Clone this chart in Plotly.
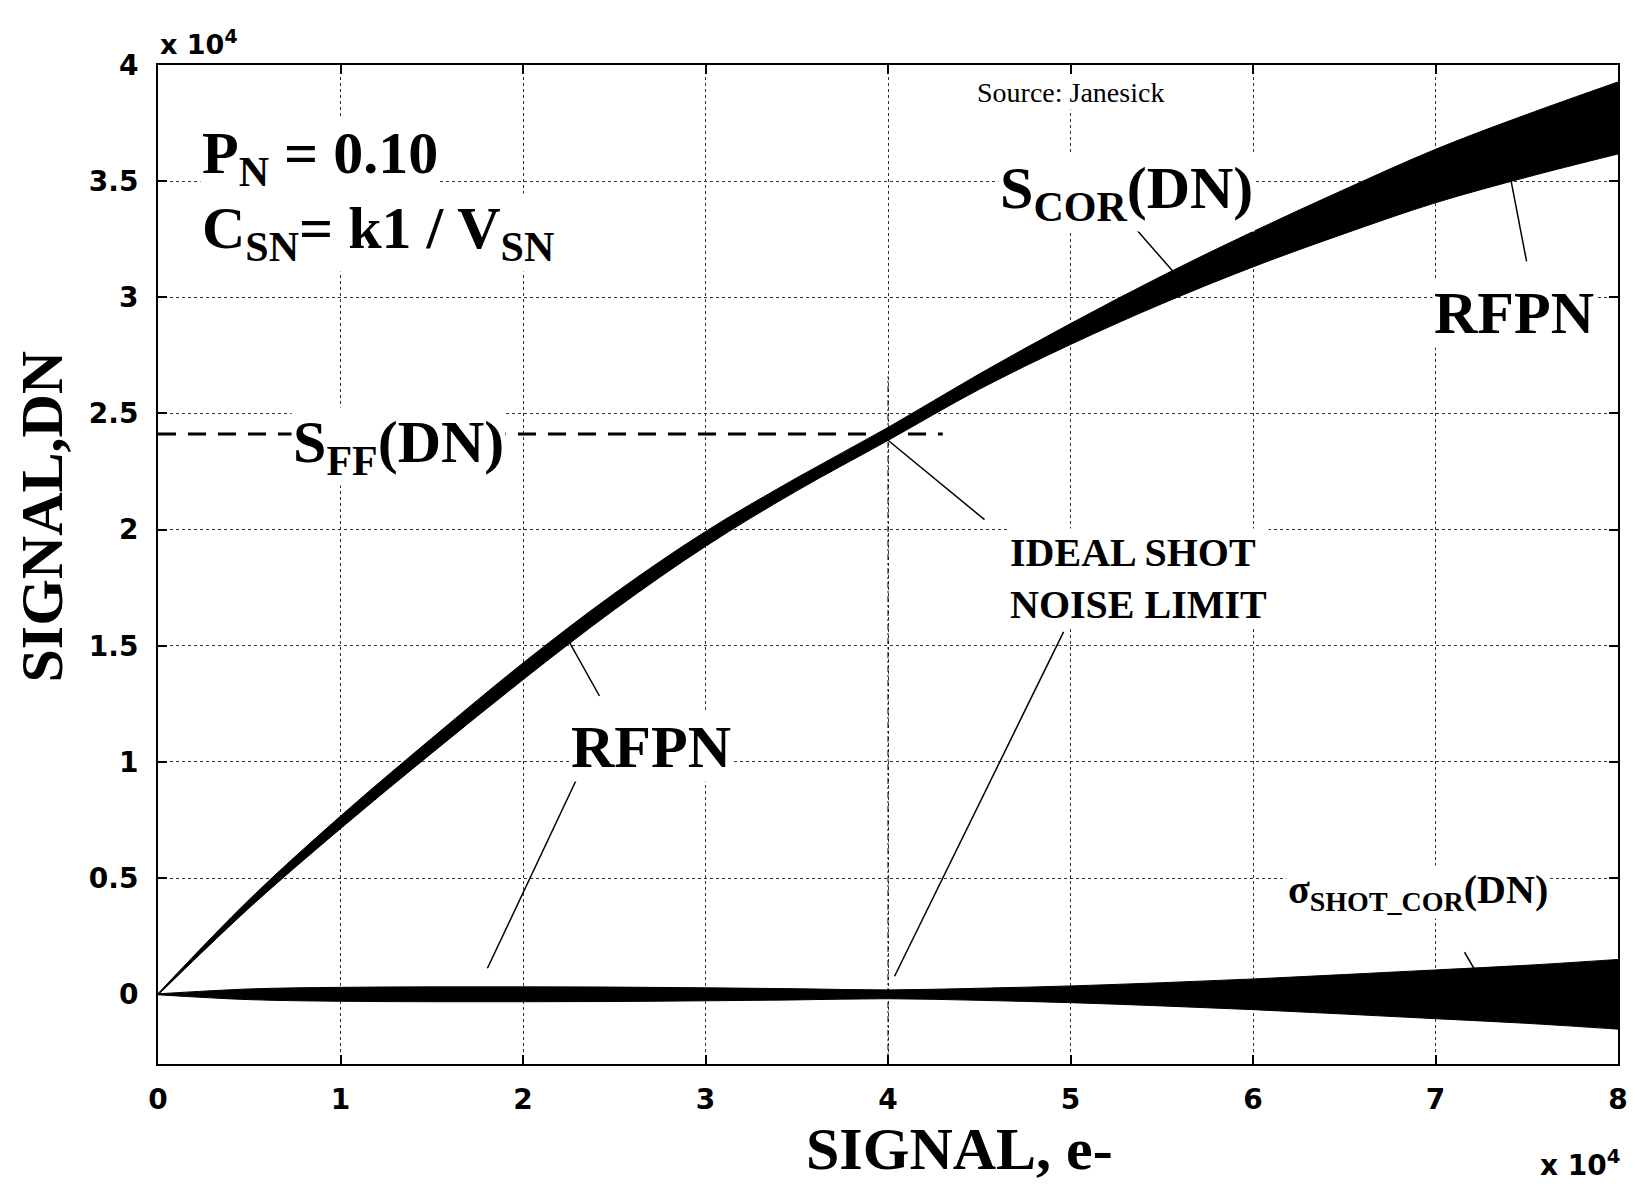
import plotly.graph_objects as go

# ---------------- data ----------------
signal_e = [0, 5000, 10000, 15000, 20000, 25000, 30000, 35000, 40000,
            45000, 50000, 55000, 60000, 65000, 70000, 75000, 80000]

# S_COR(DN) centre of the noisy trace
s_cor_dn = [0, 3900, 7400, 10700, 13900, 16900, 19600, 21950, 24120,
            26370, 28420, 30320, 32070, 33690, 35220, 36520, 37720]
# half thickness of the noisy S_COR trace (RFPN)
s_cor_spread = [30, 180, 270, 320, 360, 350, 320, 280, 280,
                330, 450, 600, 760, 950, 1150, 1350, 1550]
# half thickness of the sigma_SHOT_COR(DN) trace around zero
sigma_shot_spread = [20, 230, 300, 320, 320, 310, 280, 240, 190,
                     260, 360, 500, 660, 850, 1050, 1250, 1500]

s_ff_dn = 24120
s_ff_x_end = 43000
ideal_limit_e = 40000

x_ticks = [0, 10000, 20000, 30000, 40000, 50000, 60000, 70000, 80000]
x_tick_text = ["0", "1", "2", "3", "4", "5", "6", "7", "8"]
y_ticks = [0, 5000, 10000, 15000, 20000, 25000, 30000, 35000, 40000]
y_tick_text = ["0", "0.5", "1", "1.5", "2", "2.5", "3", "3.5", "4"]

# ---------------- figure ----------------
fig = go.Figure()

upper = [c + s for c, s in zip(s_cor_dn, s_cor_spread)]
lower = [c - s for c, s in zip(s_cor_dn, s_cor_spread)]
fig.add_trace(go.Scatter(x=signal_e, y=upper, mode="lines",
                         line=dict(color="black", width=1, shape="spline"),
                         showlegend=False))
fig.add_trace(go.Scatter(x=signal_e, y=lower, mode="lines", fill="tonexty",
                         fillcolor="black",
                         line=dict(color="black", width=1, shape="spline"),
                         showlegend=False))

n_up = [s for s in sigma_shot_spread]
n_lo = [-s for s in sigma_shot_spread]
fig.add_trace(go.Scatter(x=signal_e, y=n_up, mode="lines",
                         line=dict(color="black", width=1, shape="spline"),
                         showlegend=False))
fig.add_trace(go.Scatter(x=signal_e, y=n_lo, mode="lines", fill="tonexty",
                         fillcolor="black",
                         line=dict(color="black", width=1, shape="spline"),
                         showlegend=False))

# S_FF dashed line
fig.add_trace(go.Scatter(x=[0, s_ff_x_end], y=[s_ff_dn, s_ff_dn], mode="lines",
                         line=dict(color="black", width=3, dash="18px,12px"),
                         showlegend=False))
# ideal shot noise limit vertical dash-dot line
fig.add_trace(go.Scatter(x=[ideal_limit_e, ideal_limit_e], y=[-3000, 26600],
                         mode="lines",
                         line=dict(color="black", width=1, dash="6px,3px,2px,3px"),
                         showlegend=False))

serif = "Liberation Serif, Times New Roman, serif"
sans = "DejaVu Sans, Arial, sans-serif"

# pointer lines
pointers = [
    (53120, 33360, 55860, 30900),   # S_COR
    (74990, 31550, 74050, 35390),   # RFPN top right
    (39750, 24010, 45290, 20430),   # ideal 1
    (49620, 15600, 40360, 776),     # ideal 2
    (22440, 15300, 24190, 12840),   # RFPN mid up
    (23150, 9610, 18050, 1120),     # RFPN mid down
    (71590, 1810, 72360, 776),      # sigma
]
for x0, y0, x1, y1 in pointers:
    fig.add_shape(type="line", x0=x0, y0=y0, x1=x1, y1=y1, xref="x", yref="y",
                  line=dict(color="black", width=1.5))


def ann(x, y, text, size, xanchor="left", bg="white", family=serif, **kw):
    fig.add_annotation(x=x, y=y, xref="x", yref="y", text=text, showarrow=False,
                       xanchor=xanchor, yanchor="middle", bgcolor=bg,
                       font=dict(family=family, size=size, color="black"), **kw)


ann(2300, 36000, "<b>P<sub>N</sub> = 0.10</b>", 60)
ann(2300, 32800, "<b>C<sub>SN</sub>= k1 / V<sub>SN</sub></b>", 60)
ann(50000, 38800, "Source: Janesick", 28, xanchor="center")
ann(46000, 34500, "<b>S<sub>COR</sub>(DN)</b>", 60)
ann(74300, 29310, "<b>RFPN</b>", 60, xanchor="center")
ann(27000, 10650, "<b>RFPN</b>", 60, xanchor="center")
ann(7300, 23600, "<b>S<sub>FF</sub>(DN)</b>", 60)
ann(46600, 17890, "<b>IDEAL SHOT<br>NOISE LIMIT</b>", 40, align="left")
ann(61800, 4400, "<b>σ<sub>SHOT_COR</sub>(DN)</b>", 40)

# axis exponent labels
fig.add_annotation(x=0.0, y=1.0, xref="paper", yref="paper", yshift=23, xshift=0,
                   text="<b>x 10<sup>4</sup></b>", showarrow=False, xanchor="left",
                   yanchor="middle", font=dict(family=sans, size=27, color="black"))
fig.add_annotation(x=1.0, y=0.0, xref="paper", yref="paper", yshift=-99, xshift=4,
                   text="<b>x 10<sup>4</sup></b>", showarrow=False, xanchor="right",
                   yanchor="middle", font=dict(family=sans, size=28, color="black"))

# axis titles as positioned annotations
fig.add_annotation(x=0.549, y=0.0, xref="paper", yref="paper", yshift=-85,
                   text="<b>SIGNAL, e-</b>", showarrow=False, xanchor="center",
                   yanchor="middle", font=dict(family=serif, size=60, color="black"))
fig.add_annotation(x=0.0, y=0.548, xref="paper", yref="paper", xshift=-116,
                   text="<b>SIGNAL,DN</b>", showarrow=False, xanchor="center",
                   yanchor="middle", textangle=-90,
                   font=dict(family=serif, size=60, color="black"))

axis_common = dict(showline=True, linecolor="black", linewidth=2, mirror="ticks",
                   ticks="inside", ticklen=9, tickwidth=1.5, tickcolor="black",
                   showgrid=True, gridcolor="#333333", gridwidth=1, griddash="dot",
                   zeroline=False, automargin=False, ticklabeloverflow="allow",
                   tickfont=dict(family=sans, size=28, color="black"))

fig.update_xaxes(range=[0, 80000], tickvals=x_ticks,
                 ticktext=[f"<b>{t}</b>" for t in x_tick_text],
                 ticklabelstandoff=9, **axis_common)
fig.update_yaxes(range=[-3000, 40000], tickvals=y_ticks,
                 ticktext=[f"<b>{t}</b>" for t in y_tick_text],
                 ticklabelstandoff=12, **axis_common)

fig.update_layout(width=1619, height=1177, plot_bgcolor="white", paper_bgcolor="white",
                  margin=dict(l=150, r=9, t=57, b=121, autoexpand=False),
                  showlegend=False)

fig.write_html("out.html")
